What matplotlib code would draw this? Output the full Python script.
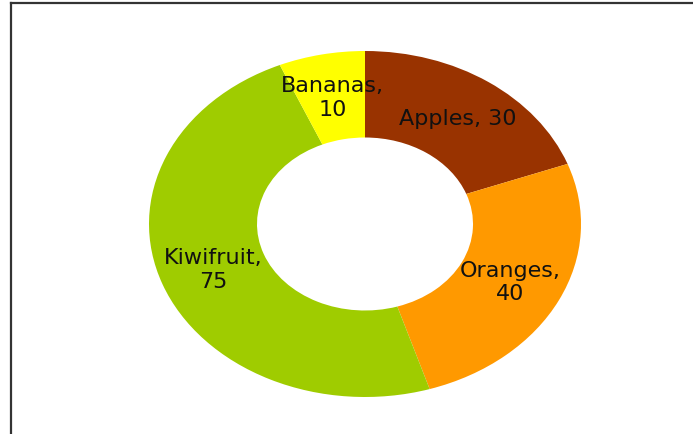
import matplotlib
matplotlib.use("Agg")
import matplotlib.pyplot as plt
from matplotlib.lines import Line2D

categories = ["Apples", "Oranges", "Kiwifruit", "Bananas"]
values = [30, 40, 75, 10]
colors = ["#993300", "#FF9900", "#9FCC00", "#FFFF00"]
wrap = [False, True, True, True]

labels = [f"{c},{chr(10) if w else ' '}{v}" for c, v, w in zip(categories, values, wrap)]

W, H = 693, 435
fig = plt.figure(figsize=(W / 100, H / 100), dpi=100)
fig.patch.set_facecolor("white")

# frame (cropped at right and bottom)
fig.add_artist(Line2D([10.5 / W, 10.5 / W], [0, 1 - 3.5 / H], transform=fig.transFigure,
                      color="#333333", lw=1.6, solid_capstyle="projecting"))
fig.add_artist(Line2D([10.5 / W, 1], [1 - 3.5 / H, 1 - 3.5 / H], transform=fig.transFigure,
                      color="#333333", lw=1.6, solid_capstyle="projecting"))

ax = fig.add_axes([149 / W, 37 / H, 432 / W, 346 / H])
ax.pie(values, labels=labels, colors=colors, startangle=90, counterclock=False,
       labeldistance=0.75, radius=1,
       wedgeprops=dict(width=0.5, edgecolor="none", linewidth=0),
       textprops=dict(ha="center", va="center", multialignment="center",
                      fontsize=16, family="DejaVu Sans", color="#111111"))
ax.set_xlim(-1, 1)
ax.set_ylim(-1, 1)
ax.set_aspect("auto")
ax.axis("off")

fig.savefig("out.png", dpi=100, facecolor="white")
